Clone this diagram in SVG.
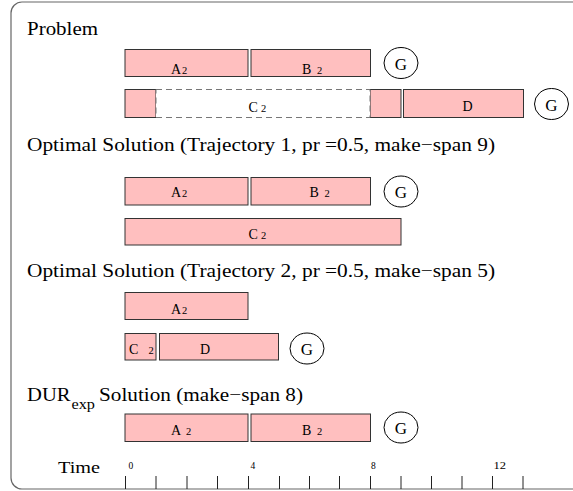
<svg xmlns="http://www.w3.org/2000/svg" width="573" height="491" viewBox="0 0 573 491" font-family="'Liberation Serif', 'DejaVu Serif', serif">
<style>
text{font-family:'Liberation Serif','DejaVu Serif',serif;fill:#000}
.title{font-size:18.5px}
.bar{fill:#ffbfbf;stroke:#333;stroke-width:1}
.lbl{font-size:14px}
.sub{font-size:10.5px}
.goal{fill:#fff;stroke:#000;stroke-width:1}
.gt{font-size:17px;text-anchor:middle}
.tick{stroke:#222;stroke-width:1}
.tl{font-size:9.5px}
</style>
<rect x="11" y="2" width="580" height="487" rx="11" fill="#fff" stroke="#666" stroke-width="1.2"/>
<g id="connectors"/>

<g id="problem">
<text class="title" x="27" y="34.5" textLength="71" lengthAdjust="spacingAndGlyphs">Problem</text>
<g id="p-A2"><rect class="bar" x="125" y="49.5" width="123" height="27"/><text class="lbl" x="171" y="74">A</text><text class="sub" x="182" y="74">2</text></g>
<g id="p-B2"><rect class="bar" x="251" y="49.5" width="119.5" height="27"/><text class="lbl" x="302" y="74">B</text><text class="sub" x="317" y="74">2</text></g>
<g id="p-G1"><ellipse class="goal" cx="401" cy="63" rx="17" ry="15.5"/><text class="gt" x="401" y="69.5">G</text></g>
<g id="p-C2">
<rect class="bar" x="125" y="89.5" width="31" height="28"/>
<rect class="bar" x="370" y="89.5" width="31" height="28"/>
<rect x="156" y="89.5" width="214" height="28" fill="#fff" stroke="#777" stroke-width="1" stroke-dasharray="6 4"/>
<text class="lbl" x="248.5" y="111.5">C</text><text class="sub" x="261" y="111.5">2</text></g>
<g id="p-D"><rect class="bar" x="403.5" y="89.5" width="120" height="28"/><text class="lbl" x="462.5" y="110.5">D</text></g>
<g id="p-G2"><ellipse class="goal" cx="551.5" cy="104" rx="17" ry="15.5"/><text class="gt" x="551.5" y="110.5">G</text></g>
</g>

<g id="opt1">
<text class="title" x="27" y="150.5" textLength="468" lengthAdjust="spacingAndGlyphs">Optimal Solution (Trajectory 1, pr =0.5, make−span 9)</text>
<g id="o1-A2"><rect class="bar" x="125" y="177.5" width="123" height="27.5"/><text class="lbl" x="171" y="197">A</text><text class="sub" x="182" y="197">2</text></g>
<g id="o1-B2"><rect class="bar" x="251" y="177.5" width="119.5" height="27.5"/><text class="lbl" x="309.5" y="197">B</text><text class="sub" x="324.5" y="197">2</text></g>
<g id="o1-G"><ellipse class="goal" cx="401" cy="191.5" rx="17" ry="15.5"/><text class="gt" x="401" y="198">G</text></g>
<g id="o1-C2"><rect class="bar" x="125" y="218.5" width="276" height="26.5"/><text class="lbl" x="248.5" y="238.5">C</text><text class="sub" x="261" y="238.5">2</text></g>
</g>

<g id="opt2">
<text class="title" x="27" y="276.5" textLength="468" lengthAdjust="spacingAndGlyphs">Optimal Solution (Trajectory 2, pr =0.5, make−span 5)</text>
<g id="o2-A2"><rect class="bar" x="125" y="292.5" width="123" height="27"/><text class="lbl" x="171" y="313.5">A</text><text class="sub" x="182" y="313.5">2</text></g>
<g id="o2-C2"><rect class="bar" x="125" y="333.5" width="31" height="26.5"/><text class="lbl" x="129" y="353.5">C</text><text class="sub" x="148.5" y="353.5">2</text></g>
<g id="o2-D"><rect class="bar" x="159.5" y="333.5" width="119" height="26.5"/><text class="lbl" x="200" y="353.5">D</text></g>
<g id="o2-G"><ellipse class="goal" cx="307" cy="348.5" rx="17" ry="15.5"/><text class="gt" x="307" y="355">G</text></g>
</g>

<g id="dur">
<text class="title" x="27" y="400.5" textLength="43.5" lengthAdjust="spacingAndGlyphs">DUR</text>
<text x="71.5" y="408.5" font-size="14px" textLength="23.5" lengthAdjust="spacingAndGlyphs">exp</text>
<text class="title" x="99" y="400.5" textLength="204" lengthAdjust="spacingAndGlyphs">Solution (make−span 8)</text>
<g id="d-A2"><rect class="bar" x="125" y="414" width="123" height="27.5"/><text class="lbl" x="171" y="435">A</text><text class="sub" x="186" y="435">2</text></g>
<g id="d-B2"><rect class="bar" x="251" y="414" width="119.5" height="27.5"/><text class="lbl" x="302" y="435">B</text><text class="sub" x="317" y="435">2</text></g>
<g id="d-G"><ellipse class="goal" cx="401" cy="427.5" rx="17" ry="15.5"/><text class="gt" x="401" y="434">G</text></g>
</g>

<g id="timeline">
<text x="58" y="473" font-size="16px" textLength="42" lengthAdjust="spacingAndGlyphs">Time</text>
<g class="tick">
<line x1="125.5" y1="476" x2="125.5" y2="489"/>
<line x1="156" y1="476" x2="156" y2="489"/>
<line x1="187" y1="476" x2="187" y2="489"/>
<line x1="217.5" y1="476" x2="217.5" y2="489"/>
<line x1="248.5" y1="476" x2="248.5" y2="489"/>
<line x1="279.5" y1="476" x2="279.5" y2="489"/>
<line x1="309.5" y1="476" x2="309.5" y2="489"/>
<line x1="339.5" y1="476" x2="339.5" y2="489"/>
<line x1="370.5" y1="476" x2="370.5" y2="489"/>
<line x1="401" y1="476" x2="401" y2="489"/>
<line x1="431.5" y1="476" x2="431.5" y2="489"/>
<line x1="462" y1="476" x2="462" y2="489"/>
<line x1="492.5" y1="476" x2="492.5" y2="489"/>
<line x1="523" y1="476" x2="523" y2="489"/>
</g>
<text class="tl" x="128.5" y="468.5">0</text>
<text class="tl" x="250.5" y="468.5">4</text>
<text class="tl" x="371" y="468.5">8</text>
<text class="tl" x="493.5" y="468.5" textLength="12.5" lengthAdjust="spacingAndGlyphs">12</text>
</g>
</svg>
